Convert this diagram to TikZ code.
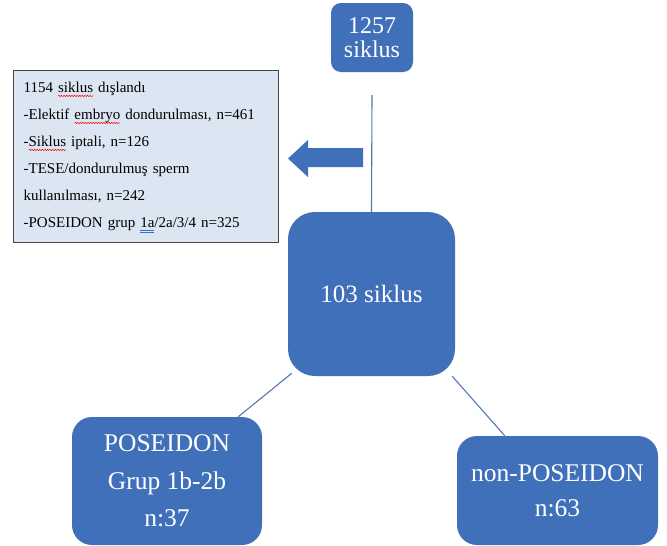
\documentclass[tikz,border=0pt]{standalone}
\usepackage{fontspec}
\setmainfont{Liberation Serif}
\usetikzlibrary{decorations.pathmorphing}
\definecolor{boxblue}{RGB}{64,112,186}
\definecolor{lineblue}{RGB}{84,120,176}
\definecolor{infofill}{RGB}{220,230,242}
\definecolor{infoborder}{RGB}{70,70,70}
\definecolor{gramblue}{RGB}{60,110,200}
\newsavebox\markbox
\newlength\markwd
\newcommand\redwave[1]{\sbox\markbox{#1}\setlength\markwd{\wd\markbox}%
  \rlap{\tikz[overlay]\draw[red,line width=0.5pt,decorate,
    decoration={snake,amplitude=0.7pt,segment length=2.6pt}] (0pt,-3.2pt) -- (\markwd,-3.2pt);}%
  \usebox\markbox}
\newcommand\blueline[1]{\sbox\markbox{#1}\setlength\markwd{\wd\markbox}%
  \rlap{\tikz[overlay]\draw[gramblue,line width=0.6pt] (0pt,-2.6pt) -- (\markwd,-2.6pt)
    (0pt,-4.2pt) -- (\markwd,-4.2pt);}%
  \usebox\markbox}
\tikzset{
  bluebox/.style={fill=boxblue, draw=none, text=white, align=center, inner sep=0pt},
  infobox/.style={fill=infofill, draw=infoborder, line width=1.3pt, align=left, text=black,
    font=\fontsize{15}{27}\selectfont},
  conn/.style={draw=lineblue, line width=1.1pt}
}
\begin{document}
\begin{tikzpicture}[x=1pt,y=-1pt]
\fill[white] (0,0) rectangle (667,546);
\useasboundingbox (0,0) rectangle (667,546);

\node[bluebox, minimum width=82pt, minimum height=69pt, rounded corners=10pt,
  font=\fontsize{24}{24}\selectfont] (top) at (372,37.5) {1257\\siklus};

\node[bluebox, minimum width=167pt, minimum height=164pt, rounded corners=27pt,
  font=\fontsize{25}{30}\selectfont] (mid) at (371.5,294) {103 siklus};

\node[bluebox, minimum width=190pt, minimum height=128pt, rounded corners=20pt,
  font=\fontsize{25.5}{37.5}\selectfont] (lb) at (167,481) {POSEIDON\\Grup 1b-2b\\n:37};

\node[bluebox, minimum width=201pt, minimum height=109pt, rounded corners=20pt,
  font=\fontsize{25.5}{35}\selectfont] (rb) at (557.5,490.5) {non-POSEIDON\\n:63};

\node[infobox, anchor=north west, text width=245pt, inner xsep=10pt, inner ysep=4pt,
  minimum height=172pt] (info) at (13,70) {1154 \redwave{siklus} dışlandı\\
-Elektif \redwave{embryo} dondurulması, n=461\\
-\redwave{Siklus} iptali, n=126\\
-TESE/dondurulmuş sperm\\
kullanılması, n=242\\
-POSEIDON grup \blueline{1a}/2a/3/4 n=325};

% block arrow
\fill[boxblue] (363,148) -- (308,148) -- (308,140) -- (288,158.5) -- (308,177) -- (308,167) -- (363,167) -- cycle;

\coordinate (vtop) at (372,95);
\draw[conn] (vtop) -- (mid.north);
\draw[conn] ([shift={(4,-3)}]mid.south west) -- ([xshift=-24pt]lb.north east);
\draw[conn] ([xshift=-3pt]mid.south east) -- ([xshift=48pt]rb.north west);
\end{tikzpicture}
\end{document}
